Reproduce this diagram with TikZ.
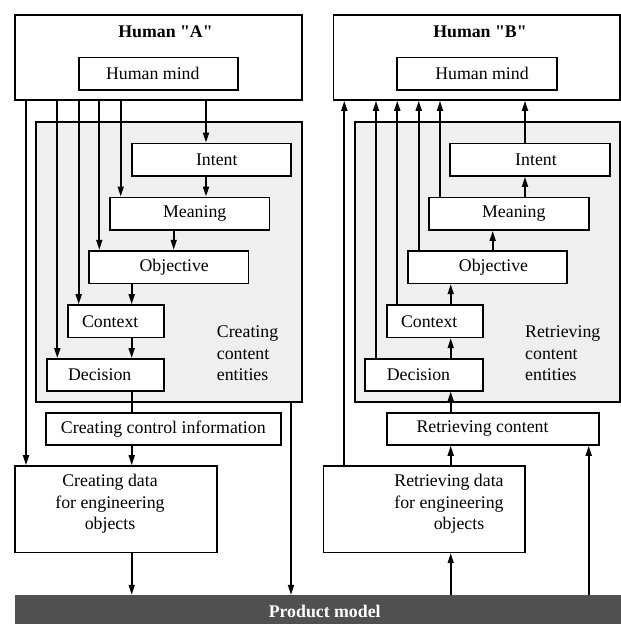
\documentclass[tikz,border=0pt]{standalone}
\usepackage{fontspec}
\setmainfont{Liberation Serif}
\usetikzlibrary{arrows.meta}
\definecolor{panel}{HTML}{EFEFEF}
\definecolor{pmgray}{HTML}{505050}
\begin{document}
\begin{tikzpicture}[x=1pt,y=-1pt,
  lw/.style={line width=1.7pt},
  box/.style={draw, lw, fill=white, inner sep=0pt, font=\fontsize{17.8}{21.5}\selectfont},
  panelbox/.style={draw, lw, fill=panel, inner sep=0pt},
  txt/.style={inner sep=0pt, font=\fontsize{17.8}{21.5}\selectfont},
  arr/.style={lw, -{Stealth[length=10pt,width=6pt,inset=0pt]}},
  ln/.style={lw}]
\useasboundingbox (0,0) rectangle (621,624);

% ---------- left side ----------
\node[box, minimum width=287.3pt, minimum height=85.3pt] (hA) at (158.3,57.3) {};
\node[txt, font=\fontsize{17.8}{21.5}\selectfont\bfseries] (tA) at (165.5,32) {Human \textquotedbl A\textquotedbl};
\node[box, minimum width=159.3pt, minimum height=32.7pt] (hmA) at (158.3,73.7) {Human mind\hspace*{11pt}};
\node[panelbox, minimum width=266pt, minimum height=279.7pt] (gA) at (169,261.8) {};
\node[box, minimum width=159.3pt, minimum height=32.7pt] (iA) at (211.3,159.7) {\hspace*{11pt}Intent};
\node[box, minimum width=159.3pt, minimum height=32.7pt] (mA) at (189.7,213.7) {\hspace*{10pt}Meaning};
\node[box, minimum width=159.3pt, minimum height=32.7pt] (oA) at (168.7,267) {\hspace*{11pt}Objective};
\node[box, minimum width=96pt, minimum height=32.3pt] (cA) at (115.7,321.2) {Context\hspace*{11pt}};
\node[box, minimum width=117pt, minimum height=31.7pt] (dA) at (105.2,374.8) {Decision\hspace*{11pt}};
\node[txt, align=left, anchor=west] (ceA) at (216.7,353.5) {Creating\\content\\entities};
\node[box, minimum width=234.7pt, minimum height=32.3pt] (cci) at (163.3,428.8) {Creating control information};
\node[box, minimum width=202pt, minimum height=86.3pt] (cdA) at (115.7,509.2) {};
\node[txt, align=center] (cdAt) at (110,504) {Creating data\\for engineering\\objects};

% ---------- right side ----------
\node[box, minimum width=286.7pt, minimum height=85.3pt] (hB) at (476.7,57.3) {};
\node[txt, font=\fontsize{17.8}{21.5}\selectfont\bfseries] (tB) at (480,32) {Human \textquotedbl B\textquotedbl};
\node[box, minimum width=159.4pt, minimum height=32.7pt] (hmB) at (477,73.7) {\hspace*{10pt}Human mind};
\node[panelbox, minimum width=265.3pt, minimum height=279.7pt] (gB) at (487.3,261.8) {};
\node[box, minimum width=160pt, minimum height=32.7pt] (iB) at (530,159.7) {\hspace*{12pt}Intent};
\node[box, minimum width=159.7pt, minimum height=32.7pt] (mB) at (508.8,213.7) {\hspace*{10pt}Meaning};
\node[box, minimum width=159.6pt, minimum height=32.7pt] (oB) at (487.5,267) {\hspace*{12pt}Objective};
\node[box, minimum width=96pt, minimum height=32.3pt] (cB) at (434.7,321.2) {Context\hspace*{11pt}};
\node[box, minimum width=117.4pt, minimum height=31.7pt] (dB) at (424,374.8) {Decision\hspace*{11pt}};
\node[txt, align=left, anchor=west] (ceB) at (525,353.5) {Retrieving\\content\\entities};
\node[box, minimum width=212.6pt, minimum height=32.3pt] (rc) at (493,428.8) {Retrieving content\hspace*{21pt}};
\node[box, minimum width=201.7pt, minimum height=86.3pt] (rd) at (424.2,509.2) {};
\node[txt, align=center] (rdt) at (449,504) {Retrieving data\\for engineering\\\hspace*{20pt}objects};

% ---------- product model ----------
\node[draw=pmgray, fill=pmgray, inner sep=0pt, minimum width=610pt, minimum height=33pt,
      text=white, font=\fontsize{17.8}{21.5}\selectfont\bfseries] (pm) at (319.7,611.5) {\hspace*{10pt}Product model};

% ---------- left connectors ----------
\draw[arr] (hA.south -| 206,0) -- (iA.north -| 206,0);
\draw[arr] (iA.south -| 206,0) -- (mA.north -| 206,0);
\draw[arr] (hA.south -| 120.7,0) -- (mA.north -| 120.7,0);
\draw[arr] (mA.south -| 173.7,0) -- (oA.north -| 173.7,0);
\draw[arr] (hA.south -| 99.3,0) -- (oA.north -| 99.3,0);
\draw[arr] (oA.south -| 131.7,0) -- (cA.north -| 131.7,0);
\draw[arr] (hA.south -| 78.7,0) -- (cA.north -| 78.7,0);
\draw[arr] (cA.south -| 131.7,0) -- (dA.north -| 131.7,0);
\draw[arr] (hA.south -| 57.3,0) -- (dA.north -| 57.3,0);
\draw[ln]  (dA.south -| 131.7,0) -- (cci.north -| 131.7,0);
\draw[arr] (cci.south -| 131.7,0) -- (cdA.north -| 131.7,0);
\draw[arr] (hA.south -| 26,0) -- (cdA.north -| 26,0);
\draw[arr] (cdA.south -| 131.7,0) -- (pm.north -| 131.7,0);
\draw[arr] (gA.south -| 291,0) -- (pm.north -| 291,0);

% ---------- right connectors ----------
\draw[arr] (iB.north -| 525,0) -- (hB.south -| 525,0);
\draw[arr] (mB.north -| 525,0) -- (iB.south -| 525,0);
\draw[arr] (mB.north -| 440,0) -- (hB.south -| 440,0);
\draw[arr] (oB.north -| 492.7,0) -- (mB.south -| 492.7,0);
\draw[arr] (oB.north -| 418.7,0) -- (hB.south -| 418.7,0);
\draw[arr] (cB.north -| 450.7,0) -- (oB.south -| 450.7,0);
\draw[arr] (cB.north -| 397.3,0) -- (hB.south -| 397.3,0);
\draw[arr] (dB.north -| 450.7,0) -- (cB.south -| 450.7,0);
\draw[arr] (dB.north -| 376,0) -- (hB.south -| 376,0);
\draw[arr] (rc.north -| 450.7,0) -- (dB.south -| 450.7,0);
\draw[arr] (rd.north -| 450.7,0) -- (rc.south -| 450.7,0);
\draw[arr] (rd.north -| 344.3,0) -- (hB.south -| 344.3,0);
\draw[arr] (pm.north -| 450.7,0) -- (rd.south -| 450.7,0);
\draw[arr] (pm.north -| 588.7,0) -- (rc.south -| 588.7,0);
\end{tikzpicture}
\end{document}
